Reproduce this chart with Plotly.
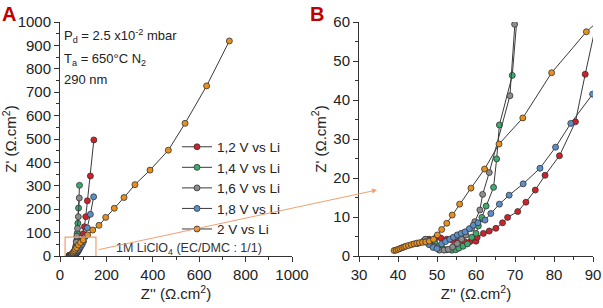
import plotly.graph_objects as go

# ---------------- data ----------------
series_names = ["1,2 V vs Li", "1,4 V vs Li", "1,6 V vs Li", "1,8 V vs Li", "2 V vs Li"]
series_colors = ["#d0202a", "#3daa6e", "#8c8c8c", "#5b8fc7", "#e8901e"]

red_x = [45.0, 46.5, 48.0, 49.5, 51.0, 52.5, 54.0, 55.5, 57.0, 58.5, 60.0, 60.3, 61.9, 63.4, 65.1, 66.8,
         68.1, 70.7, 72.8, 75.2, 77.7, 81.4, 85.5, 88.0, 93, 99, 105, 111, 118, 131, 146]
red_y = [3.2, 3.8, 4.3, 4.5, 4.6, 4.3, 4.0, 3.8, 3.7, 3.7, 3.8, 4.8, 5.8, 6.4, 7.1, 8.5,
         9.9, 11.4, 13.8, 16.9, 20.7, 25.7, 34.4, 46.6, 68, 95, 125, 168, 236, 342, 496]

green_x = [47.5, 48.5, 49.5, 50.5, 51.5, 52.5, 53.8, 54.8, 55.6, 56.7, 57.8, 58.9, 60.0, 60.6, 61.5,
           62.6, 64.5, 65.3, 66.0, 69.3, 71.5, 74, 77, 80, 84]
green_y = [4.2, 3.8, 3.2, 2.5, 1.9, 1.6, 1.5, 1.6, 2.0, 2.5, 3.1, 4.8, 5.8, 7.7, 9.9,
           12.8, 17.6, 24.9, 33.6, 46.3, 66, 97, 140, 205, 302]

grey_x = [47.0, 48.0, 49.2, 50.6, 51.8, 52.9, 54.0, 55.2, 56.3, 57.4, 58.9, 59.7, 61.0, 61.7, 63.4,
          68.7, 69.9, 72.5, 75.5, 79, 83]
grey_y = [4.3, 3.6, 2.5, 1.5, 1.5, 1.7, 2.3, 3.2, 4.3, 5.4, 7.1, 8.8, 11.8, 15.8, 21.4,
          41.1, 59.4, 85, 118, 168, 248]

blue_x = [47.0, 48.0, 49.0, 50.0, 51.2, 52.2, 53.3, 54.2, 55.2, 56.2, 57.2, 58.3, 59.3, 60.5, 62.3,
          63.8, 66.0, 68.5, 72.1, 76.4, 80.4, 84.3, 89.9, 95.5, 101, 108, 118, 131, 145]
blue_y = [3.6, 2.9, 2.2, 1.9, 3.1, 3.7, 4.3, 4.8, 5.4, 5.8, 6.2, 7.0, 7.9, 8.5, 9.2,
          10.9, 13.3, 15.6, 18.5, 22.5, 27.9, 34.0, 41.5, 50, 62, 82, 120, 178, 253]

orange_x = [39.0, 39.5, 40.0, 40.5, 41.0, 41.5, 42.0, 42.7, 43.4, 44.1, 44.8, 45.5, 46.3, 47.1, 48.0,
            49.1, 50.1, 51.2, 52.5, 53.9, 55.8, 58.7, 62.2, 65.9, 72.0, 79.4, 88.3, 100, 119, 141,
            168, 197, 234, 276, 323, 388, 467, 539, 632, 730]
orange_y = [1.4, 1.5, 1.7, 1.9, 2.1, 2.3, 2.5, 2.7, 2.9, 3.1, 3.3, 3.4, 3.5, 3.6, 3.8,
            4.3, 5.4, 6.8, 8.4, 10.5, 13.3, 17.4, 22.3, 28.7, 35.4, 47.0, 57.5, 68, 90, 111,
            131, 165, 204, 250, 305, 367, 452, 567, 727, 919]

xs = [red_x, green_x, grey_x, blue_x, orange_x]
ys = [red_y, green_y, grey_y, blue_y, orange_y]

FONT = "Liberation Sans, Arial, sans-serif"
W, H = 603, 308

fig = go.Figure()
for name, col, x, y in zip(series_names, series_colors, xs, ys):
    for xa, ya, show in (("x", "y", True), ("x2", "y2", False)):
        fig.add_trace(go.Scatter(
            x=x, y=y, xaxis=xa, yaxis=ya, name=name, showlegend=show,
            mode="lines+markers",
            line=dict(color="#3a3a3a", width=1),
            marker=dict(color=col, size=6, line=dict(color="#333333", width=0.8)),
        ))

domA_x = [60 / W, 292 / W]
domB_x = [359 / W, 593 / W]
dom_y = [(H - 256) / H, (H - 22) / H]

def main_axis(domain, rng, dtick, minor, anchor, title, standoff):
    return dict(
        domain=domain, range=rng, dtick=dtick, tick0=0, anchor=anchor,
        showgrid=False, zeroline=False, showline=True, linecolor="#333", linewidth=1,
        ticks="outside", ticklen=5, tickwidth=1, tickcolor="#333",
        minor=dict(ticks="outside", ticklen=3, dtick=minor, tickcolor="#333", showgrid=False),
        tickfont=dict(family=FONT, size=15, color="#222"),
        title=dict(text=title, font=dict(family=FONT, size=15, color="#222"), standoff=standoff),
        automargin=False, fixedrange=True,
    )

def mirror_axis(overlay, rng, dtick, minor, side, anchor):
    return dict(
        overlaying=overlay, range=rng, dtick=dtick, tick0=0, side=side, anchor=anchor,
        showgrid=False, zeroline=False, showline=True, linecolor="#333", linewidth=1,
        ticks="inside", ticklen=5, tickcolor="#333", showticklabels=False,
        minor=dict(ticks="inside", ticklen=3, dtick=minor, tickcolor="#333", showgrid=False),
        automargin=False, fixedrange=True,
    )

ztitle_x = "Z'' (Ω.cm<sup>2</sup>)"
ztitle_y = "Z' (Ω.cm<sup>2</sup>)"

fig.update_layout(
    width=W, height=H, margin=dict(l=0, r=0, t=0, b=0),
    paper_bgcolor="white", plot_bgcolor="white",
    xaxis=main_axis(domA_x, [0, 1000], 200, 100, "y", ztitle_x, 2),
    yaxis=main_axis(dom_y, [0, 1000], 100, 50, "x", ztitle_y, 4),
    xaxis2=main_axis(domB_x, [30, 90], 10, 5, "y2", ztitle_x, 2),
    yaxis2=main_axis(dom_y, [0, 60], 10, 5, "x2", ztitle_y, 3),
    xaxis3=mirror_axis("x", [0, 1000], 200, 100, "top", "y"),
    yaxis3=mirror_axis("y", [0, 1000], 100, 50, "right", "x"),
    xaxis4=mirror_axis("x2", [30, 90], 10, 5, "top", "y2"),
    yaxis4=mirror_axis("y2", [0, 60], 10, 5, "right", "x2"),
    showlegend=True,
    legend=dict(x=177 / W, y=(H - 131.5) / H, xanchor="left", yanchor="top",
                bgcolor="rgba(0,0,0,0)", font=dict(family=FONT, size=13.5, color="#222"),
                tracegroupgap=0, itemwidth=30),
)

# annotations
ann = []
ann.append(dict(text="<b>A</b>", x=0 / W, y=1 - 1 / H, xref="paper", yref="paper", xanchor="left",
                yanchor="top", showarrow=False, font=dict(family=FONT, size=20, color="#c00000")))
ann.append(dict(text="<b>B</b>", x=308 / W, y=1 - 1 / H, xref="paper", yref="paper", xanchor="left",
                yanchor="top", showarrow=False, font=dict(family=FONT, size=20, color="#c00000")))
info_lines = ["P<sub>d</sub> = 2.5 x10<sup>-2</sup> mbar", "T<sub>a</sub> = 650°C N<sub>2</sub>", "290 nm"]
for txt, yy in zip(info_lines, [36, 60, 79]):
    ann.append(dict(text=txt, x=62 / W, y=1 - yy / H, xref="paper", yref="paper", xanchor="left",
                    yanchor="middle", showarrow=False, font=dict(family=FONT, size=13, color="#222")))
ann.append(dict(text="1M LiClO<sub>4</sub> (EC/DMC : 1/1)", x=189 / W, y=1 - 249 / H, xref="paper",
                yref="paper", xanchor="center", yanchor="middle", showarrow=False,
                font=dict(family=FONT, size=12.5, color="#333")))
# arrow from zoom box to panel B
ann.append(dict(text="", x=377 / W, y=1 - 190 / H, xref="paper", yref="paper",
                ax=97 - 377, ay=250 - 190, axref="pixel", ayref="pixel", showarrow=True,
                arrowhead=2, arrowsize=1, arrowwidth=1, arrowcolor="#f0a070"))
fig.update_layout(annotations=ann)

# zoom box on panel A (region shown in B)
fig.add_shape(type="rect", xref="x", yref="y", x0=22, x1=155, y0=-38, y1=81,
              line=dict(color="#f0a070", width=1.2), fillcolor="rgba(0,0,0,0)", layer="above")

fig.write_html("out.html")
